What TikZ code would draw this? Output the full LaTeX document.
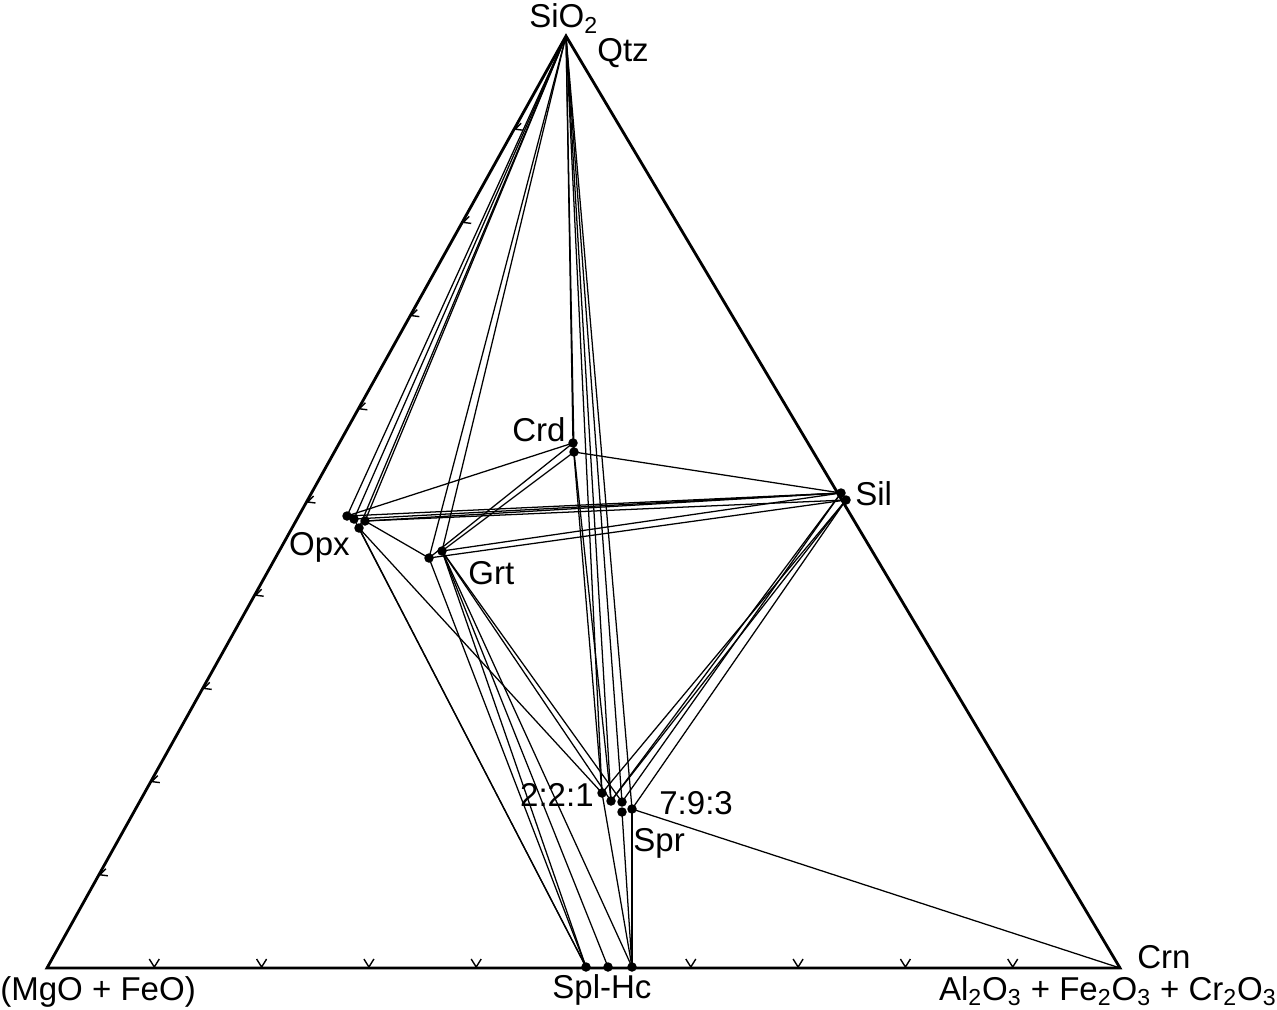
\documentclass[tikz,border=0pt]{standalone}
\usepackage{fontspec}
\setmainfont{Liberation Sans}
\begin{document}
\begin{tikzpicture}[x=0.02cm,y=-0.02cm,
  tie/.style={line width=0.72pt},
  frame/.style={line width=1.6pt, line join=miter},
  tickmark/.style={line width=0.8pt},
  lbl/.style={font=\fontsize{18.8}{21}\selectfont, inner sep=0pt},
  dotfill/.style={fill=black}]
\useasboundingbox (0,0) rectangle (1277,1010);
% vertices
\coordinate (Q) at (566,36);
\coordinate (L) at (47,968);
\coordinate (R) at (1120,968);
% phases
\coordinate (O1) at (347,516);
\coordinate (O2) at (354,519);
\coordinate (O3) at (365,521);
\coordinate (O4) at (359,528);
\coordinate (G1) at (429,558);
\coordinate (G2) at (442,551);
\coordinate (C1) at (573,443);
\coordinate (C2) at (574,452);
\coordinate (S1) at (841,493);
\coordinate (S2) at (846,500);
\coordinate (P1) at (602,793);
\coordinate (P2) at (611,801);
\coordinate (P3) at (622,802);
\coordinate (P4) at (622,812);
\coordinate (P5) at (632,809);
\coordinate (H1) at (586,967);
\coordinate (H2) at (608,967);
\coordinate (H3) at (632,967);
% tie lines from quartz
\foreach \t in {O1,O2,O3,O4,G1,G2,C1,C2,P1,P2,P3,P5} \draw[tie] (Q) -- (\t);
% opx
\draw[tie] (O1) -- (C1);
\draw[tie] (O1) -- (S1);
\draw[tie] (O2) -- (S1);
\draw[tie] (O3) -- (S1);
\draw[tie] (O3) -- (S2);
\draw[tie] (O3) -- (G1);
\draw[tie] (O4) -- (P1);
\draw[tie] (O2) -- (H1);
\draw[tie] (O4) -- (H1);
% crd
\draw[tie] (C1) -- (G1);
\draw[tie] (C2) -- (G2);
\draw[tie] (C2) -- (S1);
\draw[tie] (C1) -- (P1);
\draw[tie] (C2) -- (P2);
% grt
\draw[tie] (G1) -- (S2);
\draw[tie] (G2) -- (S1);
\draw[tie] (G1) -- (H1);
\draw[tie] (G2) -- (H1);
\draw[tie] (G2) -- (H2);
\draw[tie] (G2) -- (H3);
\draw[tie] (G2) -- (P2);
\draw[tie] (G2) -- (P3);
% sil
\draw[tie] (S2) -- (P1);
\draw[tie] (S1) -- (P2);
\draw[tie] (S2) -- (P2);
\draw[tie] (S1) -- (P3);
\draw[tie] (S2) -- (P5);
% spr
\draw[tie] (P5) -- (R);
\draw[tie] (P1) -- (H3);
\draw[tie] (P4) -- (H3);
\draw[tie] (P5) -- (H3);
% triangle
\draw[frame] (L) -- (Q) -- (R) -- cycle;
% ticks
\foreach \k in {1,...,9}
  \draw[tickmark] (47+51.9*\k+9, 968-93.2*\k+1) -- (47+51.9*\k+1, 968-93.2*\k) -- (47+51.9*\k+7, 968-93.2*\k-6);
\foreach \k in {1,2,3,4,6,7,8,9}
  \draw[tickmark] (47+107.3*\k-5, 959) -- (47+107.3*\k, 967) -- (47+107.3*\k+5, 959);
% dots
\foreach \p in {O1,O2,O3,O4,G1,G2,C1,C2,S1,S2,P1,P2,P3,P4,P5,H1,H2,H3}
  \fill[dotfill] (\p) circle[radius=0.095cm];
% labels
\node[lbl, anchor=base west] (tSi) at (529,28) {SiO\textsubscript{2}};
\node[lbl, anchor=base west] (tQtz) at (597,62) {Qtz};
\node[lbl, anchor=base west] (tCrd) at (512,441) {Crd};
\node[lbl, anchor=base west] (tSil) at (855,505) {Sil};
\node[lbl, anchor=base east] (tOpx) at (350,555) {Opx};
\node[lbl, anchor=base west] (tGrt) at (468,584) {Grt};
\node[lbl, anchor=base east] (t221) at (594,806) {2:2:1};
\node[lbl, anchor=base west] (t793) at (659,814) {7:9:3};
\node[lbl, anchor=base west] (tSpr) at (633,851) {Spr};
\node[lbl, anchor=base west] (tSpl) at (552,998) {Spl-Hc};
\node[lbl, anchor=base west] (tMg) at (0,1000) {(MgO + FeO)};
\node[lbl, anchor=base east] (tAl) at (1277,1000) {Al\textsubscript{2}O\textsubscript{3} + Fe\textsubscript{2}O\textsubscript{3} + Cr\textsubscript{2}O\textsubscript{3}};
\node[lbl, anchor=base west] (tCrn) at (1137,968) {Crn};
\end{tikzpicture}
\end{document}
